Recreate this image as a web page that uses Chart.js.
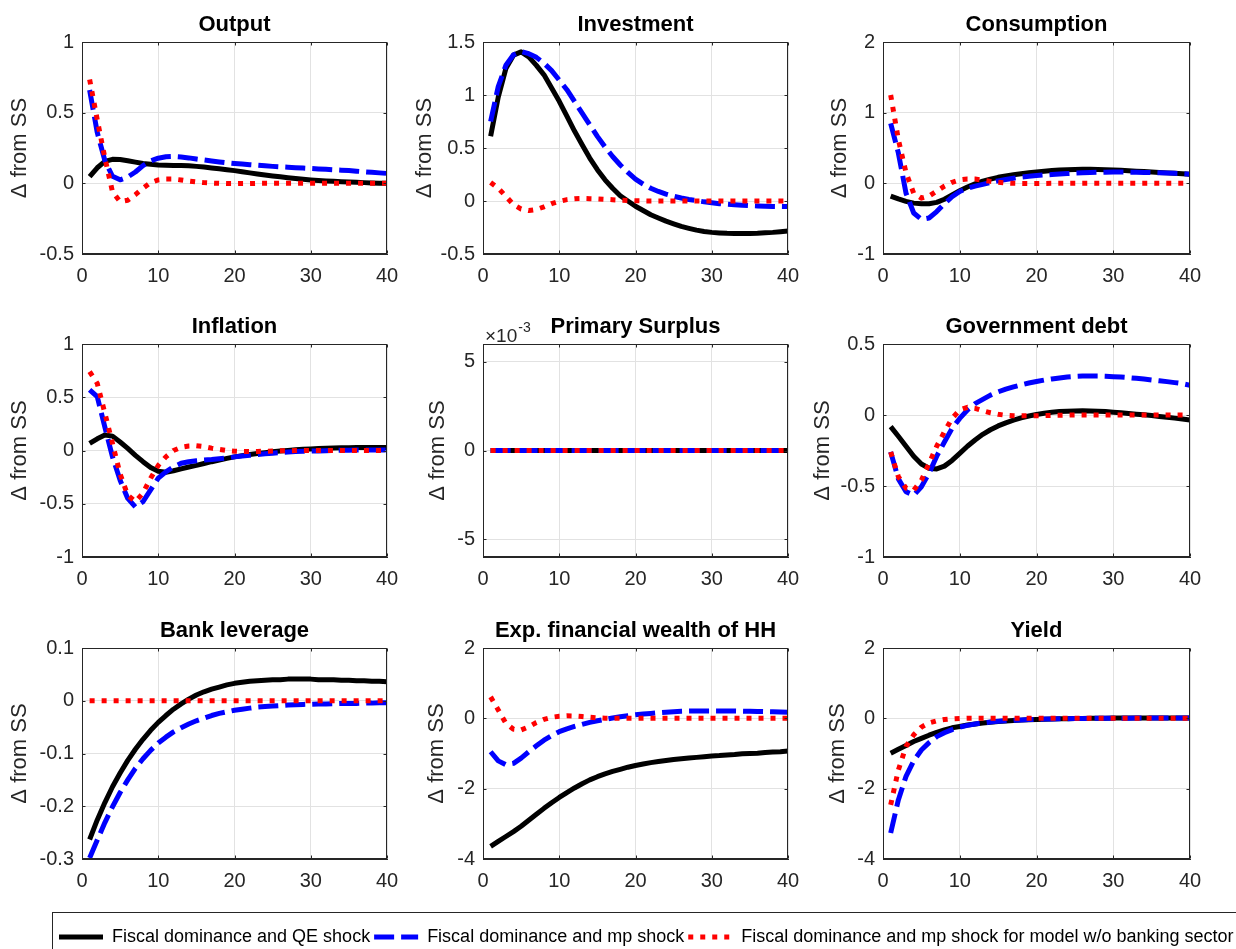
<!DOCTYPE html>
<html><head><meta charset="utf-8">
<script src="https://cdn.jsdelivr.net/npm/chart.js@4.4.0/dist/chart.umd.min.js"></script>
<style>
html,body{margin:0;padding:0;background:#fff;}
body{width:1236px;height:949px;position:relative;overflow:hidden;}
canvas{position:absolute;}
#legbox{position:absolute;left:52px;top:912px;width:1190px;height:60px;border:1px solid #262626;box-sizing:border-box;}
</style></head><body>
<div id="legbox"></div>
<script>
// ---------------- DATA ----------------
const periods = [1,2,3,4,5,6,7,8,9,10,11,12,13,14,15,16,17,18,19,20,21,22,23,24,25,26,27,28,29,30,31,32,33,34,35,36,37,38,39,40];
const seriesNames = ['Fiscal dominance and QE shock','Fiscal dominance and mp shock','Fiscal dominance and mp shock for model w/o banking sector'];
const panelTitles = ['Output','Investment','Consumption','Inflation','Primary Surplus','Government debt','Bank leverage','Exp. financial wealth of HH','Yield'];
const yLabel = '\u0394 from SS';
const xTicks = [0,10,20,30,40];
const yMins = [-0.5,-0.5,-1,-1,-0.006,-1,-0.3,-4,-4];
const yMaxs = [1,1.5,2,1,0.006,0.5,0.1,2,2];
const yTickLists = [
  [-0.5,0,0.5,1],
  [-0.5,0,0.5,1,1.5],
  [-1,0,1,2],
  [-1,-0.5,0,0.5,1],
  [-0.005,0,0.005],
  [-1,-0.5,0,0.5],
  [-0.3,-0.2,-0.1,0,0.1],
  [-4,-2,0,2],
  [-4,-2,0,2]
];

const outputQE = [0.047,0.11,0.155,0.17,0.168,0.16,0.15,0.14,0.135,0.13,0.128,0.127,0.126,0.124,0.12,0.115,0.109,0.103,0.096,0.09,0.082,0.074,0.066,0.059,0.052,0.046,0.04,0.034,0.029,0.024,0.02,0.017,0.014,0.011,0.009,0.007,0.005,0.003,0.001,0];
const outputMP = [0.66,0.36,0.16,0.05,0.025,0.045,0.08,0.125,0.158,0.178,0.188,0.19,0.186,0.18,0.172,0.165,0.158,0.151,0.145,0.14,0.136,0.132,0.128,0.124,0.12,0.117,0.114,0.111,0.108,0.105,0.102,0.099,0.096,0.093,0.09,0.086,0.082,0.078,0.074,0.07];
const outputNB = [0.735,0.45,0.18,-0.06,-0.13,-0.12,-0.08,-0.035,0.005,0.024,0.03,0.03,0.024,0.016,0.01,0.005,0.002,0,-0.002,-0.002,-0.001,-0.001,0,0,0,0,0,0,0,0,0,0,0,0,0,0,0,0,0,0];

const invQE = [0.61,0.98,1.25,1.376,1.407,1.36,1.28,1.19,1.065,0.94,0.8,0.66,0.53,0.405,0.295,0.2,0.12,0.05,0,-0.05,-0.09,-0.13,-0.16,-0.19,-0.215,-0.24,-0.258,-0.275,-0.287,-0.296,-0.301,-0.305,-0.307,-0.307,-0.306,-0.304,-0.3,-0.296,-0.29,-0.284];
const invMP = [0.75,1.08,1.28,1.38,1.41,1.39,1.355,1.3,1.23,1.14,1.05,0.94,0.83,0.72,0.61,0.51,0.42,0.34,0.27,0.207,0.16,0.12,0.09,0.065,0.045,0.028,0.014,0.003,-0.008,-0.017,-0.025,-0.031,-0.036,-0.04,-0.044,-0.047,-0.049,-0.051,-0.052,-0.053];
const invNB = [0.175,0.12,0.045,-0.035,-0.075,-0.09,-0.08,-0.055,-0.025,-0.003,0.013,0.022,0.024,0.022,0.02,0.016,0.012,0.008,0.005,0.003,0.001,0,0,0,0,0,0,0,0,0,0,0,0,0,0,0,0,0,0,0];

const consQE = [-0.18,-0.22,-0.255,-0.28,-0.29,-0.29,-0.27,-0.225,-0.165,-0.105,-0.052,-0.008,0.03,0.06,0.085,0.105,0.122,0.137,0.15,0.162,0.172,0.18,0.187,0.192,0.196,0.198,0.198,0.196,0.193,0.189,0.184,0.178,0.172,0.166,0.16,0.154,0.148,0.142,0.136,0.13];
const consMP = [0.85,0.43,-0.14,-0.42,-0.51,-0.49,-0.4,-0.29,-0.19,-0.115,-0.07,-0.04,-0.015,0.012,0.035,0.055,0.073,0.088,0.1,0.11,0.118,0.125,0.132,0.138,0.144,0.149,0.153,0.156,0.158,0.16,0.16,0.159,0.157,0.155,0.152,0.149,0.145,0.141,0.136,0.13];
const consNB = [1.25,0.62,0.15,-0.14,-0.21,-0.18,-0.11,-0.04,0.015,0.05,0.062,0.06,0.045,0.028,0.014,0.005,0,-0.002,-0.003,-0.002,-0.001,0,0,0,0,0,0,0,0,0,0,0,0,0,0,0,0,0,0,0];

const inflQE = [0.066,0.11,0.145,0.135,0.08,0.02,-0.045,-0.105,-0.16,-0.195,-0.205,-0.19,-0.172,-0.155,-0.14,-0.122,-0.105,-0.09,-0.074,-0.06,-0.048,-0.038,-0.028,-0.02,-0.012,-0.005,0.001,0.006,0.011,0.015,0.018,0.021,0.023,0.025,0.026,0.027,0.028,0.028,0.028,0.028];
const inflMP = [0.57,0.505,0.22,-0.06,-0.28,-0.45,-0.53,-0.48,-0.37,-0.26,-0.2,-0.155,-0.12,-0.105,-0.097,-0.09,-0.085,-0.078,-0.07,-0.06,-0.052,-0.045,-0.038,-0.031,-0.025,-0.019,-0.014,-0.01,-0.008,-0.006,-0.004,-0.002,0,0.002,0.003,0.004,0.004,0.005,0.005,0.005];
const inflNB = [0.74,0.63,0.35,0.066,-0.22,-0.42,-0.48,-0.4,-0.26,-0.14,-0.06,0,0.03,0.042,0.045,0.037,0.022,0.01,0,-0.006,-0.009,-0.01,-0.009,-0.007,-0.005,-0.003,-0.002,-0.001,0,0,0,0,0,0,0,0,0,0,0,0];

const surpQE = [0,0,0,0,0,0,0,0,0,0,0,0,0,0,0,0,0,0,0,0,0,0,0,0,0,0,0,0,0,0,0,0,0,0,0,0,0,0,0,0];
const surpMP = [0,0,0,0,0,0,0,0,0,0,0,0,0,0,0,0,0,0,0,0,0,0,0,0,0,0,0,0,0,0,0,0,0,0,0,0,0,0,0,0];
const surpNB = [0,0,0,0,0,0,0,0,0,0,0,0,0,0,0,0,0,0,0,0,0,0,0,0,0,0,0,0,0,0,0,0,0,0,0,0,0,0,0,0];

const debtQE = [-0.082,-0.15,-0.22,-0.29,-0.345,-0.375,-0.38,-0.36,-0.32,-0.27,-0.22,-0.176,-0.136,-0.104,-0.077,-0.055,-0.036,-0.02,-0.007,0.004,0.012,0.019,0.024,0.027,0.029,0.03,0.029,0.027,0.024,0.02,0.016,0.011,0.006,0.001,-0.004,-0.01,-0.016,-0.022,-0.028,-0.035];
const debtMP = [-0.26,-0.45,-0.54,-0.565,-0.505,-0.41,-0.29,-0.19,-0.094,-0.024,0.035,0.08,0.11,0.14,0.163,0.182,0.198,0.212,0.225,0.236,0.246,0.254,0.261,0.267,0.271,0.274,0.275,0.275,0.273,0.27,0.267,0.263,0.258,0.253,0.247,0.241,0.235,0.228,0.221,0.21];
const debtNB = [-0.26,-0.435,-0.515,-0.53,-0.46,-0.34,-0.22,-0.118,-0.024,0.035,0.054,0.047,0.03,0.016,0.005,-0.002,-0.005,-0.006,-0.006,-0.005,-0.004,-0.003,-0.002,-0.001,0,0,0,0,0,0,0,0,0,0,0,0,0,0,0,0];

const levQE = [-0.263,-0.226,-0.193,-0.163,-0.137,-0.113,-0.092,-0.073,-0.056,-0.041,-0.028,-0.016,-0.006,0.003,0.011,0.017,0.022,0.026,0.03,0.033,0.035,0.037,0.038,0.039,0.04,0.04,0.041,0.041,0.041,0.041,0.04,0.04,0.04,0.039,0.039,0.038,0.038,0.037,0.037,0.036];
const levMP = [-0.298,-0.264,-0.231,-0.201,-0.174,-0.15,-0.128,-0.11,-0.094,-0.08,-0.069,-0.059,-0.051,-0.044,-0.038,-0.033,-0.028,-0.024,-0.021,-0.018,-0.016,-0.014,-0.012,-0.011,-0.01,-0.009,-0.008,-0.0075,-0.007,-0.0065,-0.006,-0.006,-0.0055,-0.005,-0.005,-0.005,-0.0045,-0.0045,-0.004,-0.004];
const levNB = [0,0,0,0,0,0,0,0,0,0,0,0,0,0,0,0,0,0,0,0,0,0,0,0,0,0,0,0,0,0,0,0,0,0,0,0,0,0,0,0];

const wealthQE = [-3.64,-3.5,-3.36,-3.22,-3.07,-2.9,-2.73,-2.56,-2.4,-2.25,-2.11,-1.98,-1.86,-1.75,-1.66,-1.58,-1.51,-1.45,-1.39,-1.34,-1.3,-1.26,-1.23,-1.2,-1.17,-1.15,-1.13,-1.11,-1.09,-1.07,-1.06,-1.04,-1.03,-1.01,-1.0,-0.99,-0.97,-0.96,-0.95,-0.93];
const wealthMP = [-0.95,-1.21,-1.32,-1.28,-1.13,-0.95,-0.78,-0.62,-0.49,-0.38,-0.3,-0.23,-0.17,-0.115,-0.07,-0.03,0.01,0.045,0.075,0.1,0.12,0.14,0.16,0.175,0.19,0.2,0.205,0.21,0.212,0.212,0.212,0.21,0.208,0.205,0.2,0.195,0.19,0.185,0.178,0.17];
const wealthNB = [0.61,0.24,-0.14,-0.31,-0.33,-0.24,-0.12,-0.03,0.03,0.06,0.072,0.066,0.05,0.03,0.015,0.005,0,0,0,0,0,0,0,0,0,0,0,0,0,0,0,0,0,0,0,0,0,0,0,0];

const yieldQE = [-0.99,-0.88,-0.77,-0.66,-0.57,-0.48,-0.4,-0.33,-0.27,-0.23,-0.19,-0.16,-0.135,-0.112,-0.093,-0.077,-0.063,-0.051,-0.041,-0.032,-0.025,-0.019,-0.014,-0.01,-0.006,-0.003,0,0.002,0.004,0.006,0.007,0.008,0.008,0.009,0.009,0.01,0.01,0.01,0.01,0.01];
const yieldMP = [-3.26,-2.32,-1.65,-1.21,-0.9,-0.69,-0.52,-0.41,-0.32,-0.25,-0.2,-0.16,-0.13,-0.105,-0.085,-0.068,-0.055,-0.044,-0.035,-0.028,-0.022,-0.017,-0.013,-0.009,-0.006,-0.003,-0.001,0.001,0.003,0.004,0.005,0.005,0.006,0.006,0.007,0.007,0.007,0.008,0.008,0.008];
const yieldNB = [-2.46,-1.47,-0.8,-0.47,-0.25,-0.13,-0.07,-0.035,-0.015,-0.005,0,0,0,0,0,0,0,0,0,0,0,0,0,0,0,0,0,0,0,0,0,0,0,0,0,0,0,0,0,0];

const panelSeries = [
  [outputQE,outputMP,outputNB],
  [invQE,invMP,invNB],
  [consQE,consMP,consNB],
  [inflQE,inflMP,inflNB],
  [surpQE,surpMP,surpNB],
  [debtQE,debtMP,debtNB],
  [levQE,levMP,levNB],
  [wealthQE,wealthMP,wealthNB],
  [yieldQE,yieldMP,yieldNB]
];

// ---------------- STYLE / LAYOUT ----------------
Chart.defaults.font.family = '"Liberation Sans", Arial, Helvetica, sans-serif';
const seriesColors = ['#000000','#0000ff','#ff0000'];
const seriesDash = [[], [20,7], [5,7]];
const seriesWidth = 5;
const colLeft = [82, 483, 883], colRight = [387, 788, 1190];
const rowTop = [42, 344, 648], rowBottom = [254, 557, 859];
const yLabelPad = [7, 11, 26, 7, 24, 9, 7, 23, 24];
const Y_W = 82, T_H = 42, R_PAD = 25, X_H = 38;
const AX = '#262626', GRID = '#e2e2e2';

const boxPlugin = {
  id: 'axbox',
  afterDraw(chart) {
    const {ctx, chartArea: a, scales} = chart;
    const L = Math.round(a.left) + 0.5, R = Math.round(a.right) - 0.5;
    const T = Math.round(a.top) + 0.5, B = Math.round(a.bottom) - 0.5;
    ctx.save();
    ctx.strokeStyle = AX; ctx.lineWidth = 1; ctx.setLineDash([]);
    ctx.strokeRect(L, T, R - L, B - T);
    const tl = 3;
    ctx.beginPath();
    scales.y.ticks.forEach(t => {
      const p = Math.round(scales.y.getPixelForValue(t.value)) + 0.5;
      ctx.moveTo(L, p); ctx.lineTo(L + tl, p);
      ctx.moveTo(R, p); ctx.lineTo(R - tl, p);
    });
    scales.x.ticks.forEach(t => {
      const p = Math.round(scales.x.getPixelForValue(t.value)) + 0.5;
      ctx.moveTo(p, B); ctx.lineTo(p, B - tl);
      ctx.moveTo(p, T); ctx.lineTo(p, T + tl);
    });
    ctx.stroke();
    const ex = chart.options.plugins.axbox && chart.options.plugins.axbox.exponent;
    if (ex) {
      ctx.fillStyle = AX;
      ctx.textBaseline = 'alphabetic';
      ctx.textAlign = 'left';
      ctx.font = '19px "Liberation Sans", Arial, sans-serif';
      const x0 = a.left + 2, y0 = a.top - 2;
      ctx.fillText('\u00d710', x0, y0);
      const w = ctx.measureText('\u00d710').width;
      ctx.font = '14px "Liberation Sans", Arial, sans-serif';
      ctx.fillText(ex, x0 + w + 1, y0 - 10);
    }
    ctx.restore();
  }
};

function fmt(v, i) {
  if (i === 4) return String(Math.round(v * 1000));
  return String(+(+v).toFixed(4));
}

for (let i = 0; i < 9; i++) {
  const col = i % 3, row = Math.floor(i / 3);
  const pl = colLeft[col], pr = colRight[col], pt = rowTop[row], pb = rowBottom[row];
  const w = Y_W + (pr - pl) + R_PAD, h = T_H + (pb - pt) + X_H;
  const cv = document.createElement('canvas');
  cv.width = w; cv.height = h;
  cv.style.left = (pl - Y_W) + 'px'; cv.style.top = (pt - T_H) + 'px';
  cv.style.width = w + 'px'; cv.style.height = h + 'px';
  document.body.appendChild(cv);
  const ticksY = yTickLists[i];
  const datasets = panelSeries[i].map((arr, k) => ({
    label: seriesNames[k],
    data: periods.map((p, j) => ({x: p, y: arr[j]})),
    borderColor: seriesColors[k],
    backgroundColor: seriesColors[k],
    borderWidth: seriesWidth,
    borderDash: seriesDash[k],
    borderCapStyle: 'butt',
    borderJoinStyle: 'round',
    pointRadius: 0,
    tension: 0,
    fill: false,
    order: 3 - k
  }));
  new Chart(cv, {
    type: 'line',
    data: {datasets},
    plugins: [boxPlugin],
    options: {
      responsive: false, animation: false, devicePixelRatio: 1,
      layout: {padding: {left: 0, top: 0, right: R_PAD, bottom: 0}},
      plugins: {
        legend: {display: false},
        tooltip: {enabled: false},
        title: {display: true, text: panelTitles[i], fullSize: false, color: '#000',
                font: {size: 22, weight: 'bold'}, padding: {top: 11.3, bottom: 4.3}},
        axbox: {exponent: i === 4 ? '-3' : null}
      },
      scales: {
        x: {
          type: 'linear', min: 0, max: 40,
          afterBuildTicks: s => { s.ticks = xTicks.map(v => ({value: v})); },
          ticks: {color: AX, font: {size: 20}, padding: 10, maxRotation: 0, autoSkip: false},
          grid: {color: GRID, drawTicks: false},
          border: {display: true, color: AX},
          afterFit: s => { s.height = X_H; }
        },
        y: {
          type: 'linear', min: yMins[i], max: yMaxs[i],
          afterBuildTicks: s => { s.ticks = ticksY.map(v => ({value: v})); },
          ticks: {color: AX, font: {size: 20}, padding: 8, autoSkip: false, callback: v => fmt(v, i)},
          grid: {color: GRID, drawTicks: false},
          border: {display: true, color: AX},
          title: {display: true, text: yLabel, color: AX, font: {size: 22}, padding: {top: yLabelPad[i], bottom: 0}},
          afterFit: s => { s.width = Y_W; }
        }
      }
    }
  });
}

// ---------------- LEGEND ----------------
const lg = document.createElement('canvas');
const LW = 1200, LH = 90;
lg.width = LW; lg.height = LH;
lg.style.left = '55px'; lg.style.top = '924px';
lg.style.width = LW + 'px'; lg.style.height = LH + 'px';
document.body.appendChild(lg);
new Chart(lg, {
  type: 'line',
  data: {datasets: seriesNames.map((n, k) => ({
    label: n, data: [], borderColor: seriesColors[k], backgroundColor: seriesColors[k],
    borderWidth: seriesWidth, borderDash: seriesDash[k], pointStyle: 'line'
  }))},
  options: {
    responsive: false, animation: false, devicePixelRatio: 1,
    layout: {padding: 0},
    scales: {x: {display: false}, y: {display: false}},
    plugins: {
      tooltip: {enabled: false},
      legend: {display: true, position: 'top', align: 'start',
        labels: {usePointStyle: true, pointStyle: 'line', pointStyleWidth: 44,
                 font: {size: 18}, color: '#000', padding: 4,
                 generateLabels: chart => chart.data.datasets.map((ds, k) => ({
                   text: ds.label, datasetIndex: k, hidden: false,
                   fillStyle: ds.borderColor, strokeStyle: ds.borderColor,
                   lineWidth: ds.borderWidth, lineDash: ds.borderDash, lineDashOffset: 0,
                   lineCap: 'butt', lineJoin: 'miter', pointStyle: 'line', fontColor: '#000'
                 }))}}
    }
  }
});
</script>
</body></html>
